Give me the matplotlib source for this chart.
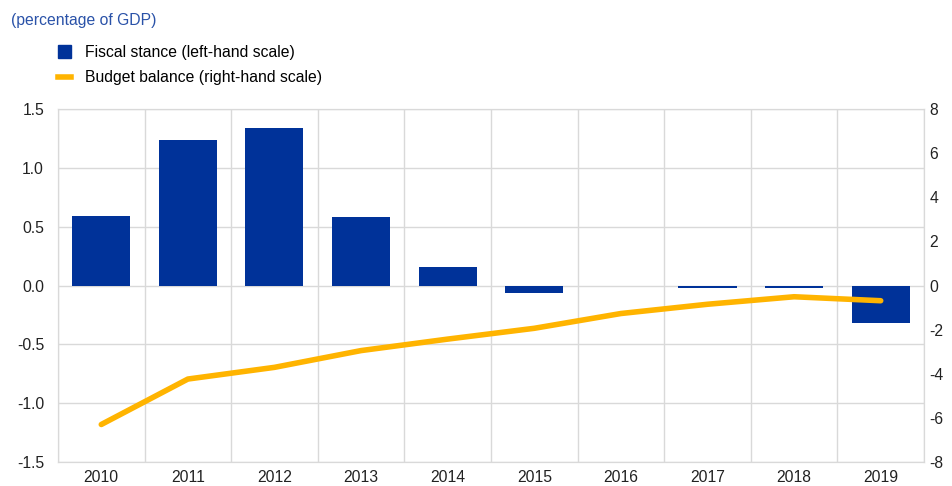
import numpy as np
import matplotlib.pyplot as plt
from matplotlib.patches import Patch
from matplotlib.lines import Line2D

# dati
years = ['2010', '2011', '2012', '2013', '2014', '2015', '2016', '2017', '2018', '2019']
fiscal_stance = [0.59, 1.235, 1.335, 0.585, 0.157, -0.066, 0.0, -0.02, -0.025, -0.316]
budget_balance = [-6.3, -4.24, -3.71, -2.95, -2.43, -1.94, -1.27, -0.85, -0.51, -0.69]

blue = '#003299'
yellow = '#FFB400'
grid_col = '#d9d9d9'
fs = 11.3

plt.rcParams['font.family'] = ['Liberation Sans', 'DejaVu Sans']
plt.rcParams['axes.unicode_minus'] = False

fig = plt.figure(figsize=(9.52, 4.86), dpi=100)
ax = fig.add_axes([0.0609, 0.0494, 0.9097, 0.7263])
ax2 = ax.twinx()

x = np.arange(len(years))
ax.bar(x, fiscal_stance, width=0.67, color=blue, zorder=2)
ax2.plot(x, budget_balance, color=yellow, linewidth=4, solid_capstyle='round', zorder=3)

ax.set_xlim(-0.5, len(years) - 0.5)
ax.set_ylim(-1.5, 1.5)
ax.set_yticks(np.arange(-1.5, 1.51, 0.5))
ax.set_yticklabels([f'{v:.1f}' for v in np.arange(-1.5, 1.51, 0.5)])
ax2.set_ylim(-8, 8)
ax2.set_yticks(np.arange(-8, 9, 2))

ax.set_xticks(x)
ax.set_xticklabels(years)
# griglia verticale ai bordi delle categorie
ax.set_xticks(np.arange(-0.5, len(years), 1.0), minor=True)
ax.grid(True, which='minor', axis='x', color=grid_col, linewidth=1)
ax.grid(True, which='major', axis='y', color=grid_col, linewidth=1)
ax.set_axisbelow(True)

for a in (ax, ax2):
    for s in a.spines.values():
        s.set_color(grid_col)
    a.tick_params(which='both', length=0, labelsize=fs, colors='#222222')
ax.tick_params(axis='y', pad=10)
ax.tick_params(axis='x', pad=6)
ax2.tick_params(axis='y', pad=4)

ax2.patch.set_visible(False)

fig.text(0.012, 0.957, '(percentage of GDP)', color='#2a52a8', fontsize=fs, va='center')

handles = [Patch(facecolor=blue, edgecolor=blue),
           Line2D([0], [0], color=yellow, linewidth=4)]
labels = ['Fiscal stance (left-hand scale)', 'Budget balance (right-hand scale)']
fig.legend(handles, labels, loc='upper left', bbox_to_anchor=(0.061, 0.908),
           frameon=False, fontsize=fs, handlelength=0.85, handleheight=0.85,
           handletextpad=0.85, labelspacing=0.68, borderaxespad=0, borderpad=0)

fig.savefig('out.png', dpi=100)
